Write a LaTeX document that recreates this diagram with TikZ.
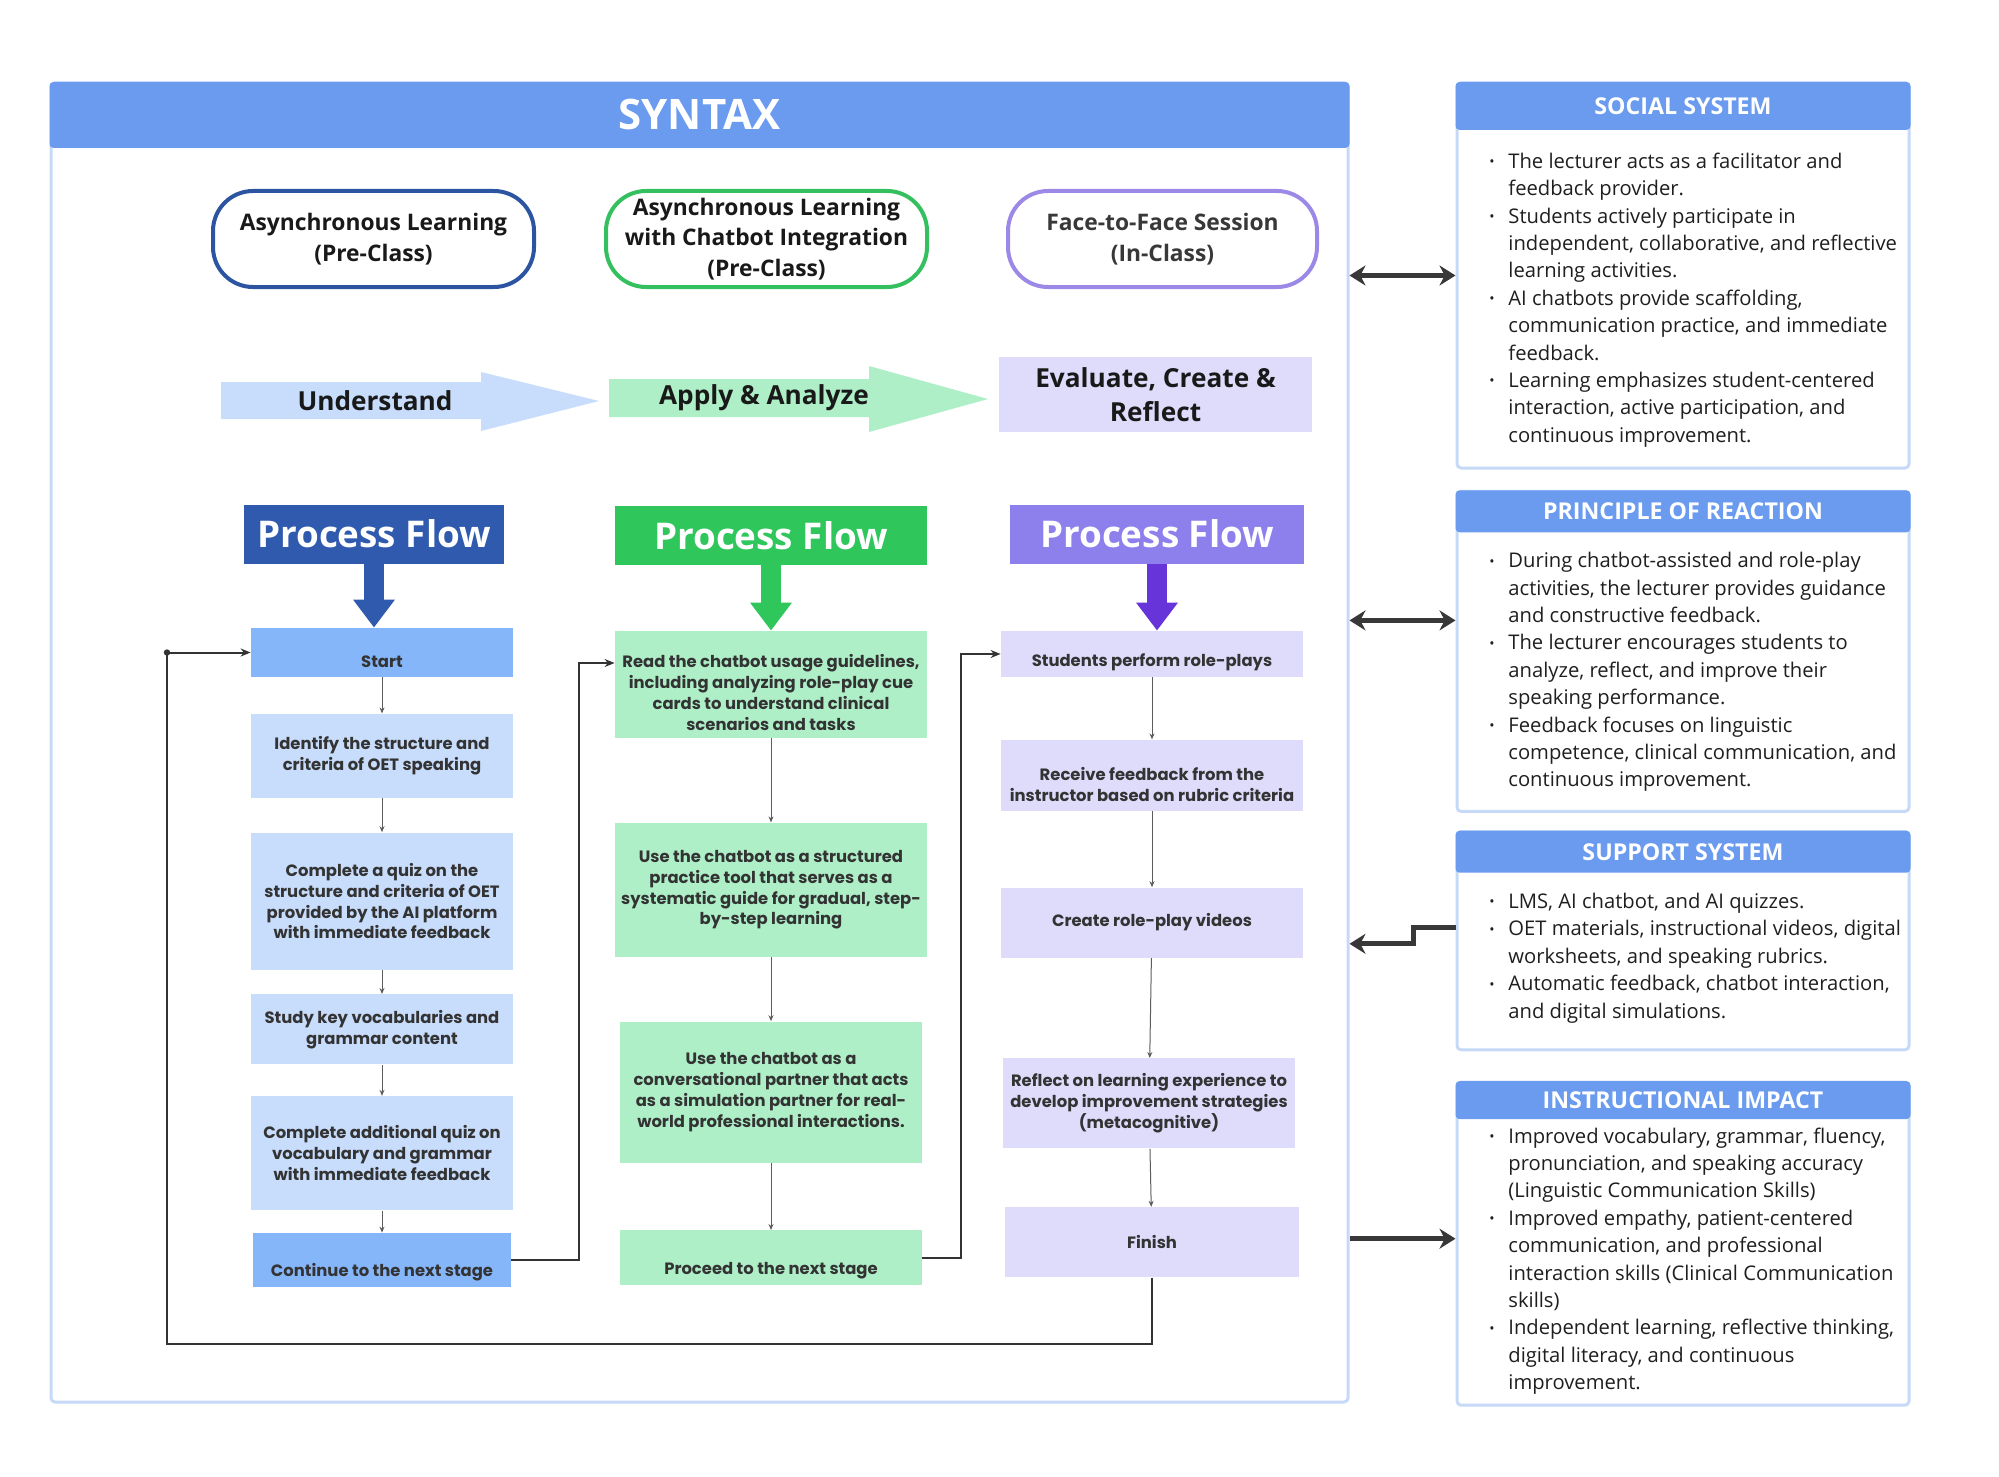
\documentclass[tikz,border=0pt]{standalone}
\usepackage{fontspec}
\setmainfont{Open Sans}
\newfontfamily\flowfont{Poppins}
\usetikzlibrary{positioning,arrows.meta}

\definecolor{synblue}{HTML}{6A9BEF}
\definecolor{edgeblue}{HTML}{C6DAF8}
\definecolor{darkblue}{HTML}{2F5AAE}
\definecolor{darkgreen}{HTML}{2FC65C}
\definecolor{darkpurple}{HTML}{8E80EC}
\definecolor{deeppurple}{HTML}{6634D8}
\definecolor{ovalblue}{HTML}{2D54A0}
\definecolor{ovalgreen}{HTML}{34C05E}
\definecolor{ovalpurple}{HTML}{9C88E6}
\definecolor{lightblue}{HTML}{C8DCFB}
\definecolor{midblue}{HTML}{86B6FA}
\definecolor{lightgreen}{HTML}{AEEFC8}
\definecolor{lightpurple}{HTML}{DEDBFB}
\definecolor{inkgray}{HTML}{333333}

\newcommand{\bul}{\makebox[9.5pt][l]{\raisebox{0.8pt}{\scriptsize\textbullet}}}
\newcommand{\ind}{\hspace*{9.5pt}}

\begin{document}
\begin{tikzpicture}[x=0.5pt,y=-0.5pt,
		oval/.style={draw,line width=2pt,rounded corners=20pt,minimum height=48pt,align=center,text=black!90,font=\fontsize{11.4}{15.3}\selectfont\bfseries},
		stagetxt/.style={align=center,text=black!90,font=\fontsize{13.1}{17}\selectfont\bfseries},
		pf/.style={minimum height=29.5pt,text=white,font=\fontsize{18.4}{20}\selectfont\bfseries},
		fat/.style={line width=10pt,-{Triangle[width=20pt,length=14pt]}},
		box/.style={align=center,inner sep=2pt,text=inkgray,font=\flowfont\fontsize{8.2}{10.4}\selectfont\bfseries},
		bA/.style={box,fill=lightblue,minimum width=131pt},
		bB/.style={box,fill=lightgreen,minimum width=156pt},
		bC/.style={box,fill=lightpurple,minimum width=151pt},
		stepline/.style={draw=inkgray!80,line width=0.5pt,-{Stealth[length=3pt,width=2.5pt]}},
		loopline/.style={draw=inkgray,line width=1pt,-{Stealth[length=5pt,width=4pt]}},
		bigline/.style={draw=black!78,line width=2.6pt},
		bigarr/.style={bigline,{Stealth[length=8pt,width=10pt]}-{Stealth[length=8pt,width=10pt]}},
		onearr/.style={bigline,-{Stealth[length=8pt,width=10pt]}},
		panel/.style={draw=edgeblue,line width=1.5pt,rounded corners=2pt,fill=white,minimum width=226pt},
		panelhead/.style={anchor=north,fill=synblue,rounded corners=2pt,minimum width=227.5pt,text=white,font=\fontsize{11.6}{12}\selectfont\bfseries},
		paneltext/.style={anchor=west,align=left,inner sep=0pt,text=black!88,font=\fontsize{10.1}{13.7}\selectfont}]
	\useasboundingbox (0,0) rectangle (1999,1477);

	% syntax frame
	\node[draw=edgeblue,line width=1.5pt,rounded corners=2pt,minimum width=648.5pt,minimum height=659.5pt] (syn) at (699.5,742.5) {};
	\node[anchor=north,fill=synblue,rounded corners=2pt,minimum width=650pt,minimum height=33pt,text=white,font=\fontsize{21}{24}\selectfont\bfseries] (synhead) at (syn.north) {SYNTAX};

	% phases
	\node[oval,draw=ovalblue,minimum width=160.5pt]		(ph1)	at (373.5,239)	{Asynchronous Learning\\(Pre-Class)};
	\node[oval,draw=ovalgreen,minimum width=160.5pt]	(ph2)	at (766.5,239)	{Asynchronous Learning\\with Chatbot Integration\\(Pre-Class)};
	\node[oval,draw=ovalpurple,minimum width=154.5pt,text=black!78]	(ph3)	at (1162.5,239)	{Face-to-Face Session\\(In-Class)};

	% stage arrows
	\fill[lightblue] (221,382) -- (481,382) -- (481,372) -- (599,401) -- (481,431) -- (481,419) -- (221,419) -- cycle;
	\fill[lightgreen] (609,379) -- (869,379) -- (869,366) -- (988,399) -- (869,432) -- (869,417) -- (609,417) -- cycle;
	\node[stagetxt]	(und)	at (375,401)	{Understand};
	\node[stagetxt]	(app)	at (764,398)	{Apply \& Analyze};
	\node[stagetxt,fill=lightpurple,minimum width=156.5pt,minimum height=37.5pt]	(eva)	at (1155.5,394.5)	{Evaluate, Create \&\\Reflect};

	% process flow headers
	\node[pf,fill=darkblue,minimum width=130pt]		(pf1)	at (374,534)	{Process Flow};
	\node[pf,fill=darkgreen,minimum width=156pt]	(pf2)	at (771,535.5)	{Process Flow};
	\node[pf,fill=darkpurple,minimum width=147pt]	(pf3)	at (1157,534)	{Process Flow};

	% column 1
	\node[bA,fill=midblue,minimum height=24.5pt]	(start)	at (382,652.5)	{\rule{0pt}{15pt}Start};
	\node[bA,minimum height=42pt,below=18pt of start]	(ident)	{Identify the structure and\\criteria of OET speaking};
	\node[bA,minimum height=68.5pt,below=17pt of ident]	(quiz)	{Complete a quiz on the\\structure and criteria of OET\\provided by the AI platform\\with immediate feedback};
	\node[bA,minimum height=35pt,below=12pt of quiz]	(study)	{Study key vocabularies and\\grammar content};
	\node[bA,minimum height=57pt,below=15.5pt of study]	(addq)	{Complete additional quiz on\\vocabulary and grammar\\with immediate feedback};
	\node[bA,fill=midblue,minimum width=129pt,minimum height=27pt,below=11pt of addq]	(cont)	{\rule{0pt}{19pt}Continue to the next stage};

	% column 2
	\node[bB,minimum height=53.5pt]	(read)	at (771,684.5)	{\rule{0pt}{14.5pt}Read the chatbot usage guidelines,\\including analyzing role-play cue\\cards to understand clinical\\scenarios and tasks};
	\node[bB,minimum height=67pt,below=42pt of read]	(struct)	{Use the chatbot as a structured\\practice tool that serves as a\\systematic guide for gradual, step-\\by-step learning};
	\node[bB,minimum width=151pt,minimum height=70.5pt,below=32pt of struct]	(conv)	{Use the chatbot as a\\conversational partner that acts\\as a simulation partner for real-\\world professional interactions.};
	\node[bB,minimum width=151pt,minimum height=27.5pt,below=33.5pt of conv]	(proc)	{\rule{0pt}{19pt}Proceed to the next stage};

	% column 3
	\node[bC,minimum height=23pt]	(stud)	at (1152,654)	{\rule{0pt}{15pt}Students perform role-plays};
	\node[bC,minimum height=35.5pt,below=31pt of stud]	(recv)	{\rule{0pt}{15.5pt}Receive feedback from the\\instructor based on rubric criteria};
	\node[bC,minimum height=35pt,below=38pt of recv]	(crea)	{Create role-play videos};
	\node[bC,minimum width=146pt,minimum height=45pt,below=50pt of crea,xshift=-1.5pt]	(refl)	{Reflect on learning experience to\\develop improvement strategies\\(metacognitive)};
	\node[bC,minimum width=147pt,minimum height=35pt,below=29pt of refl,xshift=1.5pt]	(fin)	{Finish};

	% header arrows
	\draw[fat,darkblue]		(pf1.south) -- (pf1.south |- start.north);
	\draw[fat,darkgreen]	(pf2.south) -- (pf2.south |- read.north);
	\draw[fat,deeppurple]	(pf3.south) -- (pf3.south |- stud.north);

	% steps
	\draw[stepline] (start) -- (ident);
	\draw[stepline] (ident) -- (quiz);
	\draw[stepline] (quiz) -- (study);
	\draw[stepline] (study) -- (addq);
	\draw[stepline] (addq) -- (cont);
	\draw[stepline] (read) -- (struct);
	\draw[stepline] (struct) -- (conv);
	\draw[stepline] (conv) -- (proc);
	\draw[stepline] (stud) -- (recv);
	\draw[stepline] (recv) -- (crea);
	\draw[stepline] (crea) -- (refl);
	\draw[stepline] (refl) -- (fin);

	% links between columns
	\coordinate (back) at (167,1344);
	\draw[loopline] (cont.east) -- ++(34pt,0) |- ([yshift=10.75pt]read.west);
	\draw[loopline] (proc.east) -- ++(19.5pt,0) |- (stud.west);
	\draw[loopline] (fin.south) |- (back) |- (start.west);
	\fill[inkgray] (back |- start.west) circle (1.6pt);

	% side panels
	\node[panel,minimum height=192.5pt]	(social)	at (1683,275.5)	{};
	\node[panelhead,minimum height=24pt]	at (social.north)	{SOCIAL SYSTEM};
	\node[paneltext]	at (1489,300)	{\bul The lecturer acts as a facilitator and\\\ind feedback provider.\\\bul Students actively participate in\\\ind independent, collaborative, and reflective\\\ind learning activities.\\\bul AI chatbots provide scaffolding,\\\ind communication practice, and immediate\\\ind feedback.\\\bul Learning emphasizes student-centered\\\ind interaction, active participation, and\\\ind continuous improvement.};

	\node[panel,minimum height=160pt,below=10.2pt of social]	(princ)	{};
	\node[panelhead,minimum height=21pt]	at (princ.north)	{PRINCIPLE OF REACTION};
	\node[paneltext]	at (1489,672)	{\bul During chatbot-assisted and role-play\\\ind activities, the lecturer provides guidance\\\ind and constructive feedback.\\\bul The lecturer encourages students to\\\ind analyze, reflect, and improve their\\\ind speaking performance.\\\bul Feedback focuses on linguistic\\\ind competence, clinical communication, and\\\ind continuous improvement.};

	\node[panel,minimum height=109pt,below=8.7pt of princ]	(supp)	{};
	\node[panelhead,minimum height=21pt]	at (supp.north)	{SUPPORT SYSTEM};
	\node[paneltext]	at (1489,958)	{\bul LMS, AI chatbot, and AI quizzes.\\\bul OET materials, instructional videos, digital\\\ind worksheets, and speaking rubrics.\\\bul Automatic feedback, chatbot interaction,\\\ind and digital simulations.};

	\node[panel,minimum height=161.5pt,below=14.7pt of supp]	(impact)	{};
	\node[panelhead,minimum height=19pt]	at (impact.north)	{INSTRUCTIONAL IMPACT};
	\node[paneltext]	at (1489,1261)	{\bul Improved vocabulary, grammar, fluency,\\\ind pronunciation, and speaking accuracy\\\ind (Linguistic Communication Skills)\\\bul Improved empathy, patient-centered\\\ind communication, and professional\\\ind interaction skills (Clinical Communication\\\ind skills)\\\bul Independent learning, reflective thinking,\\\ind digital literacy, and continuous\\\ind improvement.};

	% links to panels
	\draw[bigarr] (social.west -| syn.east) -- (social.west);
	\draw[bigarr] ([yshift=15.5pt]princ.west -| syn.east) -- ([yshift=15.5pt]princ.west);
	\draw[onearr] ([yshift=6.5pt]supp.west) -- ++(-21pt,0) -- ++(0,-8pt) -- ++(-32pt,0);
	\draw[onearr] ([yshift=2.5pt]impact.west -| syn.east) -- ([yshift=2.5pt]impact.west);
\end{tikzpicture}
\end{document}
